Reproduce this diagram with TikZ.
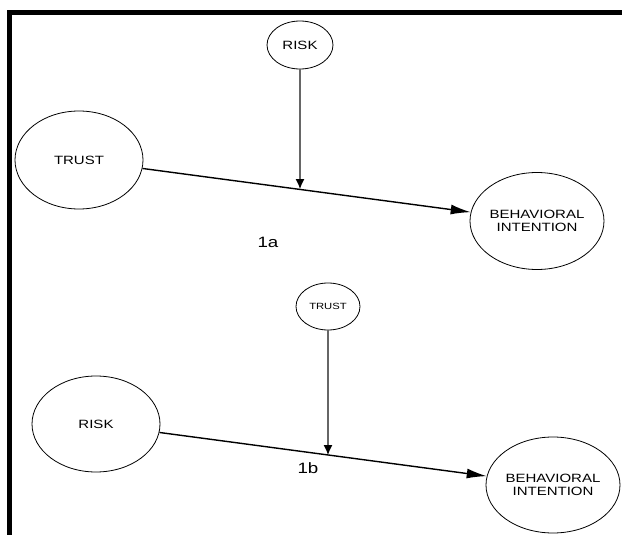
\documentclass[tikz,border=0pt]{standalone}
\usepackage{fontspec}
\newfontfamily\diagfont[FakeStretch=1.25]{Liberation Sans}
\usepackage{tikz}
\usetikzlibrary{arrows.meta, shapes, positioning}
\tikzstyle{construct} = [ellipse, draw=black, line width=0.8pt, inner sep=0pt, align=center, font=\diagfont\fontsize{12}{13}\selectfont]
\tikzstyle{path} = [draw=black, line width=1.4pt, -{Latex[length=20pt, width=10pt]}]
\tikzstyle{moderator} = [draw=black!60, line width=1.2pt, -{Latex[length=10pt, width=9pt, color=black]}]
\tikzstyle{panel} = [font=\diagfont\fontsize{15}{17}\selectfont]

\begin{document}
\begin{tikzpicture}[x=1pt, y=-1pt]
					\useasboundingbox (0, 0) rectangle (622, 535);

					\coordinate (FrameBL) at (9.5, 535);
					\coordinate (FrameTL) at (9.5, 12.5);
					\coordinate (FrameTR) at (622, 12.5);
					\draw [line width=5pt] (FrameBL) -- (FrameTL) -- (FrameTR);

					\node (RiskA) [construct, minimum width=66, minimum height=48] at (300, 45) {RISK};
					\node (TrustA) [construct, minimum width=128, minimum height=98] at (79, 160) {TRUST};
					\node (BehavA) [construct, minimum width=128, minimum height=97] at (537, 221) {BEHAVIORAL\\INTENTION};
					\node (LabelA) [panel] at (268, 242) {1a};

					\coordinate (HitA) at (300, 189);
					\draw [path] (TrustA) -- (BehavA);
					\draw [moderator] (RiskA) -- (HitA);

					\node (TrustB) [construct, minimum width=64, minimum height=47, font=\diagfont\fontsize{9}{10}\selectfont] at (328, 306.5) {TRUST};
					\node (RiskB) [construct, minimum width=128, minimum height=96] at (96, 424) {RISK};
					\node (BehavB) [construct, minimum width=127, minimum height=96] at (553, 485) {BEHAVIORAL\\INTENTION};
					\node (LabelB) [panel] at (308, 468) {1b};

					\coordinate (HitB) at (328, 455);
					\draw [path] (RiskB) -- (BehavB);
					\draw [moderator] (TrustB) -- (HitB);

				\end{tikzpicture}
\end{document}
